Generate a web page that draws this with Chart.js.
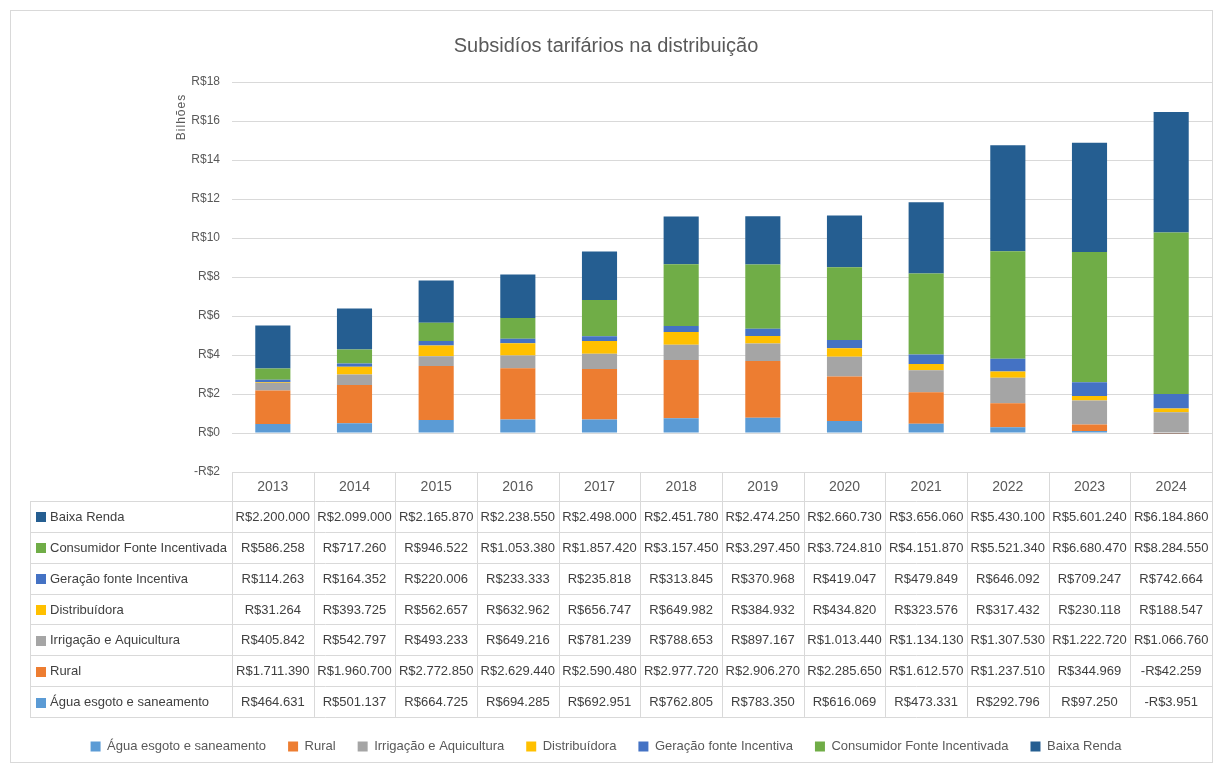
<!DOCTYPE html>
<html>
<head>
<meta charset="utf-8">
<script src="https://cdn.jsdelivr.net/npm/chart.js@4.4.1/dist/chart.umd.min.js"></script>
<style>
html,body{margin:0;padding:0;background:#fff;}
#wrap{position:relative;width:1213px;height:766px;}
</style>
</head>
<body>
<div id="wrap"><canvas id="c" width="1213" height="766"></canvas></div>
<script>
// values in thousands of R$
const years = ['2013','2014','2015','2016','2017','2018','2019','2020','2021','2022','2023','2024'];
const agua = [464631, 501137, 664725, 694285, 692951, 762805, 783350, 616069, 473331, 292796, 97250, -3951];
const rural = [1711390, 1960700, 2772850, 2629440, 2590480, 2977720, 2906270, 2285650, 1612570, 1237510, 344969, -42259];
const irrigacao = [405842, 542797, 493233, 649216, 781239, 788653, 897167, 1013440, 1134130, 1307530, 1222720, 1066760];
const distribuidora = [31264, 393725, 562657, 632962, 656747, 649982, 384932, 434820, 323576, 317432, 230118, 188547];
const geracao = [114263, 164352, 220006, 233333, 235818, 313845, 370968, 419047, 479849, 646092, 709247, 742664];
const consumidor = [586258, 717260, 946522, 1053380, 1857420, 3157450, 3297450, 3724810, 4151870, 5521340, 6680470, 8284550];
const baixaRenda = [2200000, 2099000, 2165870, 2238550, 2498000, 2451780, 2474250, 2660730, 3656060, 5430100, 5601240, 6184860];
const yTicks = [-2, 0, 2, 4, 6, 8, 10, 12, 14, 16, 18];

const seriesNames = ['Água esgoto e saneamento','Rural','Irrigação e Aquicultura','Distribuídora','Geração fonte Incentiva','Consumidor Fonte Incentivada','Baixa Renda'];
const seriesData = [agua, rural, irrigacao, distribuidora, geracao, consumidor, baixaRenda];
const colors = ['#5B9BD5','#ED7D31','#A5A5A5','#FFC000','#4472C4','#70AD47','#255E91'];

const FONT = "'Liberation Sans','Arial',sans-serif";
const TXT = '#595959';

function fmt(v){
  const neg = v < 0;
  const s = Math.abs(v).toString().replace(/\B(?=(\d{3})+(?!\d))/g, '.');
  return (neg ? '-R$' : 'R$') + s;
}

const datasets = seriesNames.map((n,i)=>({
  label: n,
  data: seriesData[i].map(v => v/1e6),
  backgroundColor: colors[i],
  borderWidth: 0,
  categoryPercentage: 1,
  barPercentage: 0.43,
  stack: 's'
}));

const tablePlugin = {
  id: 'tablePlugin',
  beforeDraw(chart){
    const ctx = chart.ctx;
    ctx.save();
    ctx.fillStyle = '#fff';
    ctx.fillRect(0,0,chart.width,chart.height);
    ctx.strokeStyle = '#D9D9D9';
    ctx.lineWidth = 1;
    ctx.strokeRect(10.5, 10.5, 1202, 752);
    ctx.restore();
  },
  afterDraw(chart){
    const ctx = chart.ctx;
    const ca = chart.chartArea;
    const n = years.length;
    const w = (ca.right - ca.left)/n;
    const yearTop = ca.bottom;
    const tableTop = 501;
    const rowH = 30.85;
    const rows = seriesNames.length;
    const tableBottom = tableTop + rows*rowH;
    const labelLeft = 30;
    ctx.save();
    ctx.strokeStyle = '#D9D9D9';
    ctx.lineWidth = 1;
    ctx.beginPath();
    ctx.moveTo(ca.left, Math.round(yearTop)+0.5); ctx.lineTo(ca.right, Math.round(yearTop)+0.5);
    for(let r=0;r<=rows;r++){
      const y = Math.round(tableTop + r*rowH)+0.5;
      ctx.moveTo(labelLeft, y); ctx.lineTo(ca.right, y);
    }
    for(let i=0;i<=n;i++){
      const x = Math.round(ca.left + i*w)+0.5;
      ctx.moveTo(x, yearTop); ctx.lineTo(x, tableBottom);
    }
    ctx.moveTo(labelLeft+0.5, tableTop); ctx.lineTo(labelLeft+0.5, tableBottom);
    ctx.stroke();

    ctx.font = '13px ' + FONT;
    ctx.textBaseline = 'middle';
    for(let r=0;r<rows;r++){
      const si = rows-1-r;
      const yc = tableTop + r*rowH + rowH/2 + 1;
      ctx.fillStyle = colors[si];
      ctx.fillRect(36, Math.round(yc-5), 10, 10);
      ctx.fillStyle = '#404040';
      ctx.textAlign = 'left';
      ctx.fillText(seriesNames[si], 50, yc);
      ctx.textAlign = 'center';
      for(let i=0;i<n;i++){
        const xc = chart.scales.x.getPixelForValue(i);
        ctx.fillText(fmt(seriesData[si][i]), xc, yc);
      }
    }
    ctx.save();
    ctx.translate(182, 117);
    ctx.rotate(-Math.PI/2);
    ctx.textAlign = 'center';
    ctx.textBaseline = 'middle';
    ctx.fillStyle = TXT;
    ctx.font = '12px ' + FONT;
    ctx.letterSpacing = '1px';
    ctx.fillText('Bilhões', 0, 0);
    ctx.restore();
    ctx.restore();
  }
};

new Chart(document.getElementById('c'), {
  type: 'bar',
  data: { labels: years, datasets },
  options: {
    responsive: false,
    animation: false,
    layout: { padding: { left: 0, right: 1, top: 0, bottom: 3 } },
    plugins: {
      title: {
        display: true,
        text: 'Subsidíos tarifários na distribuição',
        color: TXT,
        font: { family: FONT, size: 20, weight: 'normal' },
        padding: { top: 34, bottom: 24 }
      },
      legend: {
        position: 'bottom',
        labels: {
          color: TXT,
          boxWidth: 10,
          boxHeight: 10,
          padding: 22,
          font: { family: FONT, size: 13 }
        }
      },
      tooltip: { enabled: false }
    },
    scales: {
      x: {
        stacked: true,
        grid: { display: false, drawTicks: false },
        border: { display: false },
        ticks: { color: TXT, font: { family: FONT, size: 14 }, padding: 7 },
        afterFit(scale){ scale.height = 246; }
      },
      y: {
        stacked: true,
        min: -2, max: 18,
        afterBuildTicks(scale){ scale.ticks = yTicks.map(v=>({value:v})); },
        grid: { color: '#D9D9D9', drawTicks: false },
        border: { display: false },
        ticks: {
          color: TXT,
          font: { family: FONT, size: 12 },
          padding: 12,
          callback: v => (v < 0 ? '-R$' + (-v) : 'R$' + v)
        },
        afterFit(scale){ scale.width = 232; }
      }
    }
  },
  plugins: [tablePlugin]
});
</script>
</body>
</html>
